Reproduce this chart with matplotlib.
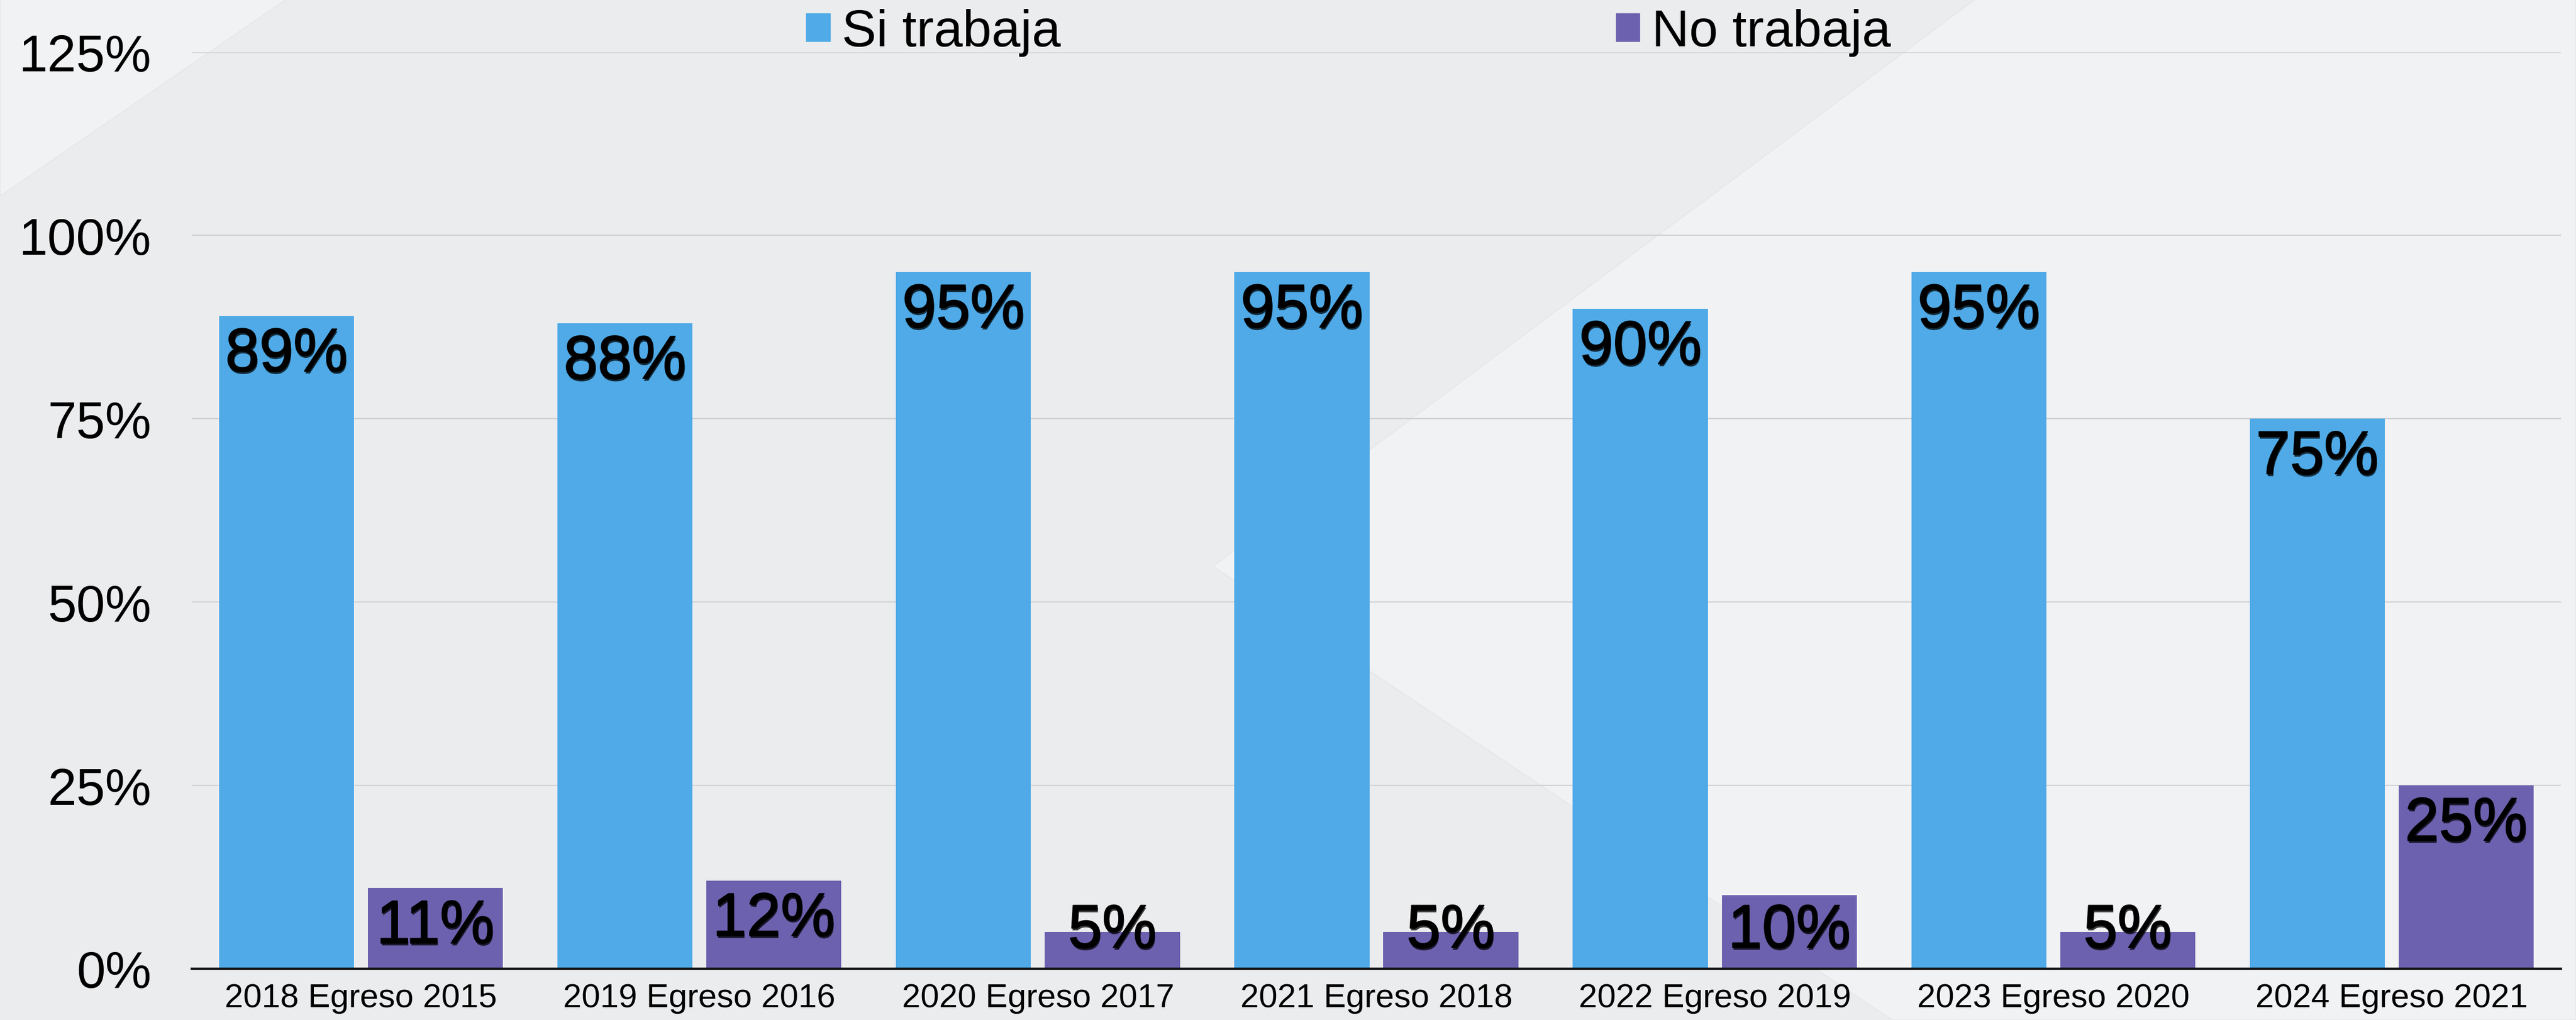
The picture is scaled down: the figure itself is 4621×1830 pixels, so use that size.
import matplotlib.pyplot as plt
import matplotlib.patheffects as pe
from matplotlib.patches import Patch, Polygon
import numpy as np

# data
categories = ["2018 Egreso 2015", "2019 Egreso 2016", "2020 Egreso 2017",
              "2021 Egreso 2018", "2022 Egreso 2019", "2023 Egreso 2020",
              "2024 Egreso 2021"]
si_trabaja = [89, 88, 95, 95, 90, 95, 75]
no_trabaja = [11, 12, 5, 5, 10, 5, 25]
series_names = ["Si trabaja", "No trabaja"]
y_ticks = [0, 25, 50, 75, 100, 125]

blue = "#4FAAE7"
purple = "#6C61AF"

plt.rcParams['font.family'] = ['Liberation Sans', 'DejaVu Sans']

W, H = 4621, 1831
fig = plt.figure(figsize=(W / 100, H / 100), dpi=100)
fig.patch.set_facecolor("#EBECEE")

# light background shapes (slide decoration)
light = "#F1F2F4"
shapes = [
    [(0, 0), (513, 0), (0, 353)],
    [(3543, 0), (W, 0), (W, H), (3394, H), (2176, 1017)],
]
for pts in shapes:
    fig.add_artist(Polygon([(x / W, 1 - y / H) for x, y in pts], closed=True,
                           transform=fig.transFigure, facecolor=light,
                           edgecolor="#E4E5E8", linewidth=1, zorder=-10))

ax = fig.add_axes([344 / W, 1 - 1739 / H, (4594 - 344) / W, (1739 - 94.6) / H])
ax.set_facecolor("none")

x = np.arange(len(categories))
bw = 0.399
off = 0.220
b1 = ax.bar(x - off, si_trabaja, bw, color=blue, zorder=3, label=series_names[0])
b2 = ax.bar(x + off, no_trabaja, bw, color=purple, zorder=3, label=series_names[1])

shadow = [pe.withSimplePatchShadow(offset=(1, -3), shadow_rgbFace="black", alpha=0.75),
          pe.withStroke(linewidth=1.5, foreground="black")]
for bars, vals in ((b1, si_trabaja), (b2, no_trabaja)):
    for rect, v in zip(bars, vals):
        ytop = max(v - 1.5, 8.9)
        ax.text(rect.get_x() + rect.get_width() / 2, ytop, f"{v}%",
                ha="center", va="top", fontsize=79, color="black",
                zorder=5, path_effects=shadow)

ax.set_xlim(-0.5, len(categories) - 0.5)
ax.set_ylim(0, 125)
ax.set_yticks(y_ticks)
ax.set_yticklabels([f"{t}%" for t in y_ticks], fontsize=67)
ax.set_xticks(x)
ax.set_xticklabels(categories, fontsize=43)
ax.tick_params(axis="y", length=0, pad=52)
ax.tick_params(axis="x", length=0, pad=18)
ax.yaxis.grid(True, color="#CFD1D4", linewidth=1.6, zorder=0)
ax.set_axisbelow(True)
for s in ("left", "right", "top"):
    ax.spines[s].set_visible(False)
ax.spines["bottom"].set_color("#111111")
ax.spines["bottom"].set_linewidth(3)
ax.spines["bottom"].set_zorder(4)

handles = [Patch(color=blue), Patch(color=purple)]
ax.legend(handles, series_names, ncol=2, frameon=False, fontsize=67,
          handlelength=0.46, handleheight=0.46, handletextpad=0.23,
          columnspacing=10.7, loc="upper left", borderpad=0, borderaxespad=0,
          bbox_to_anchor=(1446 / W, 1 - 16 / H), bbox_transform=fig.transFigure)

fig.savefig("out.png", dpi=100, facecolor=fig.get_facecolor())
